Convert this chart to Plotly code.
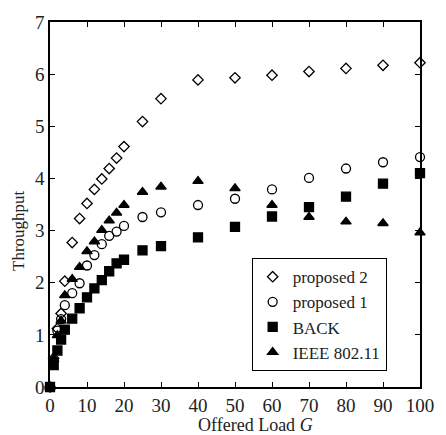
import plotly.graph_objects as go

load = [0, 1, 2, 3, 4, 6, 8, 10, 12, 14, 16, 18, 20, 25, 30, 40, 50, 60, 70, 80, 90, 100]

proposed2 = [0, 0.55, 1.12, 1.41, 2.03, 2.77, 3.23, 3.52, 3.79, 3.99, 4.19, 4.39, 4.61,
             5.09, 5.53, 5.89, 5.93, 5.98, 6.05, 6.11, 6.17, 6.22]
proposed1 = [0, 0.50, 1.08, 1.30, 1.57, 1.80, 1.99, 2.33, 2.53, 2.74, 2.90, 2.98, 3.09,
             3.26, 3.35, 3.49, 3.61, 3.79, 4.01, 4.19, 4.31, 4.41]
back = [0, 0.42, 0.70, 0.91, 1.10, 1.31, 1.51, 1.72, 1.89, 2.05, 2.22, 2.37, 2.44,
        2.62, 2.70, 2.87, 3.07, 3.27, 3.45, 3.65, 3.90, 4.10]
ieee = [0, 0.53, 0.99, 1.27, 1.76, 2.07, 2.30, 2.60, 2.79, 3.01, 3.19, 3.34, 3.49,
        3.74, 3.84, 3.95, 3.81, 3.49, 3.26, 3.17, 3.14, 2.96]

x_ticks = list(range(0, 101, 10))
y_ticks = list(range(0, 8))

FONT = "Liberation Serif"

fig = go.Figure()
# (name, values, symbol, size, legend rank) - BACK drawn last so its square covers the origin
series = [
    ("proposed 2", proposed2, "diamond-open", 8, 1),
    ("proposed 1", proposed1, "circle-open", 9, 2),
    ("IEEE 802.11", ieee, "triangle-up", 9, 4),
    ("BACK", back, "square", 9, 3),
]
for name, vals, sym, sz, rank in series:
    fig.add_trace(go.Scatter(
        x=load, y=vals, mode="markers", name=name, cliponaxis=False, legendrank=rank,
        marker=dict(symbol=sym, size=sz, color="black", line=dict(color="black", width=1.3)),
    ))

axis_common = dict(
    showline=True, linecolor="black", linewidth=1.5, mirror="ticks",
    ticks="inside", ticklen=5, tickcolor="black", tickwidth=1,
    showgrid=False, zeroline=False,
    tickfont=dict(family=FONT, size=19, color="#222"),
)
fig.update_xaxes(range=[0, 100], tickvals=x_ticks, **axis_common)
fig.update_yaxes(range=[0, 7], tickvals=y_ticks, **axis_common)

fig.add_annotation(text="Offered Load <i>G</i>", xref="paper", yref="paper",
                   x=0.556, y=-0.07, xanchor="center", yanchor="top", showarrow=False,
                   font=dict(family=FONT, size=18, color="#222"))
fig.add_annotation(text="Throughput", xref="paper", yref="paper", textangle=-90,
                   x=-0.085, y=0.429, xanchor="center", yanchor="middle", showarrow=False,
                   font=dict(family=FONT, size=17, color="#222"))

fig.update_layout(
    width=446, height=435,
    margin=dict(l=50, r=20, t=15, b=48),
    plot_bgcolor="white", paper_bgcolor="white",
    legend=dict(x=0.545, y=0.353, xanchor="left", yanchor="top",
                bgcolor="white", bordercolor="black", borderwidth=1,
                font=dict(family=FONT, size=17, color="#222")),
)

fig.write_html(
    "out.html",
    config={"displayModeBar": False},
    post_script=("document.body.style.margin='0';"
                 "document.body.style.overflow='hidden';"
                 "document.documentElement.style.overflow='hidden';"),
)
